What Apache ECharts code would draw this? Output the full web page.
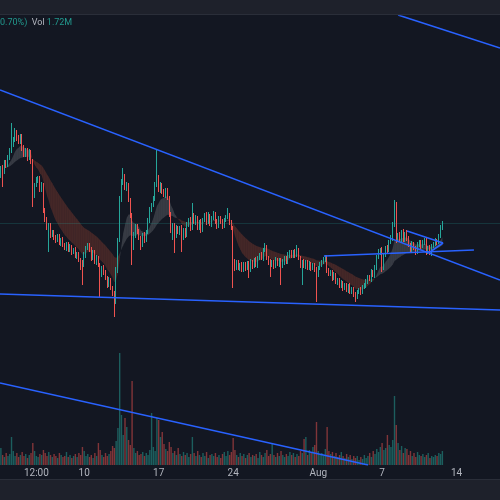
<!DOCTYPE html>
<html><head><meta charset="utf-8">
<script src="https://cdn.jsdelivr.net/npm/echarts@6/dist/echarts.min.js"></script>
<style>html,body{margin:0;padding:0;background:#131722;}#c{width:500px;height:500px;}</style>
</head><body><div id="c"></div>
<script>
// 4h candles, price in arbitrary units
const firstOpen = 290;
const closes = [
297,293,303,300,307,315,320,325,333,327,
323,329,317,310,315,307,313,303,270,280,
285,287,275,280,255,245,237,240,230,233,
227,225,229,222,225,220,217,221,215,218,
213,215,209,211,205,203,200,210,217,220,
215,207,213,203,207,200,190,197,193,187,
180,185,177,172,163,195,225,265,283,287,
277,280,265,250,217,230,239,233,227,220,
230,225,233,245,255,260,267,280,287,275,
280,273,270,275,267,250,235,240,229,237,
233,237,227,235,230,240,245,237,250,243,
247,237,243,235,245,250,243,249,241,247,
251,243,239,247,243,239,245,248,250,243,
237,203,197,203,197,200,195,201,197,202,
195,203,199,205,200,207,210,207,215,218,
207,203,200,203,199,205,201,205,199,203,
207,203,210,213,209,213,210,215,207,200,
203,199,203,197,201,197,200,195,190,197,
201,203,205,207,195,191,193,187,190,183,
185,179,182,177,180,175,179,173,176,171,
168,173,175,173,178,180,183,188,186,193,
190,197,208,213,215,197,210,217,215,223,
227,240,260,225,230,225,233,225,231,227,
220,215,221,217,213,220,223,219,222,225,
213,217,212,219,221,224,223,229,237,242];
const upperWick = [
2,3,2,2,3,2,22,3,4,2, 3,2,2,3,2,2,3,2,3,2, 3,2,2,3,2,2,3,2,2,2, 2,3,2,2,2,3,2,2,2,3,
2,2,3,2,2,2,2,3,2,2, 2,3,2,2,3,2,2,2,3,2, 2,3,2,2,2,3,2,4,3,10, 4,3,2,2,2,3,2,2,3,2,
2,3,2,2,3,2,2,3,28,3, 3,2,3,2,2,2,3,2,2,3, 2,2,3,2,2,3,2,3,12,2, 3,2,2,3,2,2,3,4,2,2,
3,2,3,2,2,3,2,2,7,2, 2,2,3,2,2,2,3,2,2,2, 2,3,2,2,3,2,2,3,2,4, 2,2,3,2,2,3,2,2,2,3,
2,2,3,2,2,2,3,5,2,2, 2,3,2,2,3,2,2,2,3,2, 2,2,3,3,3,2,2,2,3,2, 2,2,3,2,2,2,2,3,2,2,
2,2,2,3,2,2,3,2,2,3, 2,3,2,3,2,3,2,2,3,2, 3,3,5,3,2,3,2,3,2,4, 2,2,3,2,2,3,2,2,3,2,
2,2,3,2,2,3,2,2,3,2];
const lowerWick = [
3,15,2,3,2,2,3,2,2,3, 2,2,3,2,2,3,2,2,12,3, 2,3,2,2,3,2,2,24,3,2, 2,3,2,2,3,2,2,3,2,2,
3,2,2,3,2,8,20,2,3,2, 2,3,2,2,3,2,22,2,3,2, 3,2,2,3,15,2,3,2,2,3, 2,3,2,3,17,2,3,2,2,5,
2,3,2,2,3,2,2,3,2,2, 3,2,2,3,2,2,3,10,17,2, 2,3,14,2,3,2,2,3,2,2, 3,2,2,3,2,2,3,2,2,3,
2,2,3,2,2,3,2,2,2,3, 2,26,3,2,2,3,2,2,3,2, 8,2,3,2,2,3,2,2,3,2, 2,3,12,2,3,2,2,3,19,2,
3,2,2,3,2,2,3,2,2,3, 20,2,3,2,2,3,2,2,27,2, 2,3,2,2,3,2,2,3,2,2, 3,2,2,3,2,2,3,2,2,3,
5,2,2,3,2,2,3,2,2,3, 2,3,2,2,3,4,2,2,3,2, 2,3,2,3,2,2,3,2,2,3, 2,3,2,2,3,2,2,3,2,2,
3,2,2,3,2,2,3,2,2,2];
const volumes = [
17,10,8,12,9,11,28,14,9,12, 8,10,13,9,11,7,10,12,22,14, 9,8,11,10,15,12,9,13,10,8,
11,9,7,12,10,8,9,13,8,10, 7,9,11,8,12,10,18,14,9,11, 8,10,7,12,9,22,15,10,8,12,
9,11,14,19,17,24,37,112,50,30, 47,38,25,20,84,17,12,14,10,11, 13,9,12,10,15,52,18,14,47,45,
28,33,21,16,14,23,18,12,14,10, 17,11,9,13,10,12,8,11,28,12, 9,14,10,8,12,9,13,7,10,11,
9,12,8,10,7,11,13,9,14,10, 13,27,15,10,8,12,9,11,7,10, 12,8,10,9,11,7,13,10,8,12,
15,9,11,21,10,8,12,9,14,10, 8,11,9,13,10,12,8,11,9,14, 12,26,28,10,15,12,18,20,43,14,
10,12,9,16,38,14,11,13,9,12, 8,10,13,9,7,11,8,10,6,9, 7,9,5,8,6,10,7,9,12,8,
14,11,16,13,18,22,15,17,30,20, 18,25,69,40,22,15,19,12,17,16, 10,14,9,12,8,13,10,9,11,8,
10,12,7,9,8,10,9,12,11,14];
const totalSlots = 282;
const tickLabels = {20:'12:00', 47:'10', 89:'17', 131:'24', 179:'Aug', 215:'7', 257:'14'};
// drawn trend lines: [slot index, price]
const priceTrendLines = [
  [[-0.5,375],[281.5,185]],
  [[224,450],[281.5,417]],
  [[-0.5,171],[281.5,155]],
  [[182.2,209],[266.8,215]],
  [[229.1,234],[249.4,222]],
  [[242,213],[249.4,222]]
];
const volumeTrendLine = [[-0.5,82],[207.1,0]];

const N = closes.length;
const opens = closes.map((c,i)=> i===0 ? firstOpen : closes[i-1]);
const candleData = closes.map((c,i)=>{
  const o = opens[i];
  return [o, c, Math.min(o,c)-lowerWick[i], Math.max(o,c)+upperWick[i]];
});
const cats = [];
for (let i=0;i<totalSlots;i++) cats.push(String(i));
const UP='#26a69a', DOWN='#ef5350';
const volData = volumes.map((v,i)=>({value:v, itemStyle:{color: closes[i]>=opens[i] ? 'rgba(38,166,154,0.5)' : 'rgba(239,83,80,0.5)'}}));
function ema(arr,n){const k=2/(n+1);const out=[];let e=arr[0];arr.forEach((v,i)=>{e=i===0?v:v*k+e*(1-k);out.push(e);});return out;}
const fast = ema(closes,10), slow = ema(closes,34);
const ribbon = [];
for (let i=0;i<N-1;i++) ribbon.push([i, fast[i], slow[i], fast[i+1], slow[i+1]]);

const series = [
  {type:'custom', xAxisIndex:1, yAxisIndex:0, z:1, silent:true,
   encode:{x:0,y:[1,2,3,4]},
   renderItem:(params,api)=>{
     const i=api.value(0);
     const a=api.coord([i,api.value(1)]), b=api.coord([i+1,api.value(3)]), c=api.coord([i+1,api.value(4)]), d=api.coord([i,api.value(2)]);
     const bear = api.value(3) < api.value(4);
     return {type:'polygon', shape:{points:[a,b,c,d]}, style:{fill: bear?'rgba(170,72,52,0.33)':'rgba(200,205,205,0.2)'}};
   }, data: ribbon},
  {type:'bar', xAxisIndex:0, yAxisIndex:1, barWidth:1.4, z:1, data: volData, silent:true},
  {type:'candlestick', xAxisIndex:0, yAxisIndex:0, z:2, barWidth:1.3, silent:true,
   itemStyle:{color:UP, color0:DOWN, borderColor:UP, borderColor0:DOWN, borderWidth:1},
   data: candleData,
   markLine:{silent:true, symbol:'none', label:{show:false},
     lineStyle:{color:'rgba(38,166,154,0.22)', type:'solid', width:1},
     data:[{yAxis: closes[N-1]}]}}
];
priceTrendLines.forEach(l=>series.push({type:'line', xAxisIndex:1, yAxisIndex:0, z:3, symbol:'none', silent:true,
  lineStyle:{color:'#2962ff', width:1.6}, data:l}));
series.push({type:'line', xAxisIndex:1, yAxisIndex:1, z:3, symbol:'none', silent:true,
  lineStyle:{color:'#2962ff', width:1.6}, data:volumeTrendLine});

const chart = echarts.init(document.getElementById('c'), null, {renderer:'canvas'});
chart.setOption({
  backgroundColor:'#131722',
  animation:false,
  grid:{left:0, right:0, top:16, bottom:35},
  xAxis:[
    {type:'category', data:cats, boundaryGap:true,
     axisLine:{show:false}, axisTick:{show:false}, splitLine:{show:false},
     axisLabel:{color:'#b2b5be', fontSize:10, fontFamily:'Roboto', margin:3,
       interval:(idx)=> tickLabels[idx]!==undefined,
       formatter:(v,idx)=> tickLabels[idx]||''}},
    {type:'value', min:-0.5, max:totalSlots-0.5, show:false}
  ],
  yAxis:[
    {type:'value', min:0, max:449, show:false},
    {type:'value', min:0, max:449, show:false}
  ],
  graphic:[
    {type:'rect', left:0, top:0, shape:{width:500, height:14}, style:{fill:'#1e212b'}, z:100},
    {type:'rect', left:0, top:14, shape:{width:500, height:1}, style:{fill:'#2a2e39'}, z:100},
    {type:'rect', left:0, top:480, shape:{width:500, height:20}, style:{fill:'#1e212b'}, z:100},
    {type:'rect', left:0, top:479, shape:{width:500, height:1}, style:{fill:'#2a2e39'}, z:100},
    {type:'text', left:0, top:18, z:100, style:{text:'{a|0.70%)}  {b|Vol} {a|1.72M}', font:'9px Roboto',
      rich:{a:{fill:'#22998e', fontSize:9, fontFamily:'Roboto'}, b:{fill:'#b2b5be', fontSize:9, fontFamily:'Roboto'}}}}
  ],
  series: series
});
</script></body></html>
